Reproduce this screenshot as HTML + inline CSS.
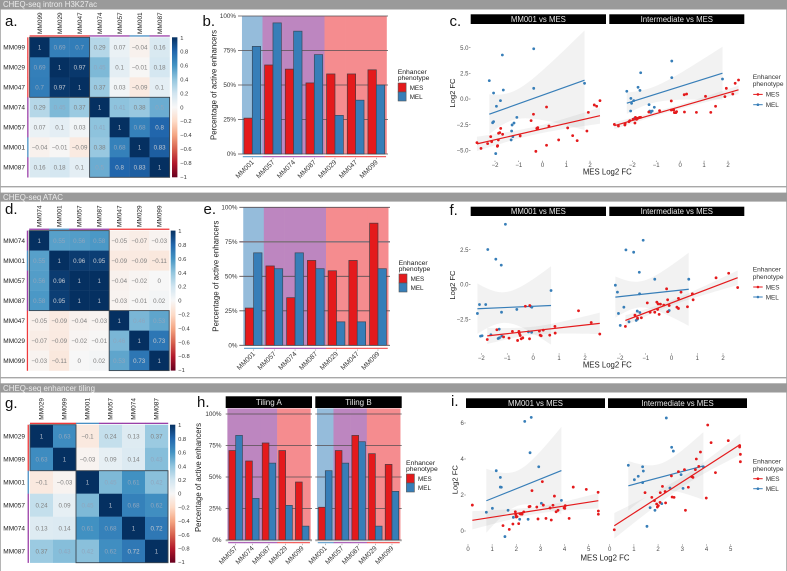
<!DOCTYPE html>
<html lang="en">
<head>
<meta charset="utf-8">
<title>CHEQ-seq correlation, enhancer phenotype and fold change figure</title>
<style>
html,body{margin:0;padding:0;background:#fff;width:787px;height:571px;overflow:hidden}
svg{display:block;font-family:"Liberation Sans",Arial,sans-serif;filter:blur(0.3px)}
</style>
</head>
<body>
<svg id="figure" xmlns="http://www.w3.org/2000/svg" width="787" height="571" viewBox="0 0 787 571">
  <defs>
    <linearGradient id="rdbu" x1="0" y1="1" x2="0" y2="0"></linearGradient>
  </defs>
  <rect x="0" y="0" width="787" height="571" fill="#ffffff"/>
  <rect x="0" y="0" width="1" height="571" fill="#b5b5b5"/>
  <rect x="786" y="0" width="1" height="571" fill="#b5b5b5"/>
  <rect x="0" y="0" width="787" height="9.5" fill="#9a9a9a"/>
  <rect x="0" y="186" width="787" height="1.4" fill="#a8a8a8"/>
  <rect x="0" y="192.6" width="787" height="9" fill="#9a9a9a"/>
  <rect x="0" y="377" width="787" height="1.4" fill="#a8a8a8"/>
  <rect x="0" y="383.3" width="787" height="9.2" fill="#9a9a9a"/>
  <text x="3" y="7" font-size="8" fill="#ececec" textLength="94" lengthAdjust="spacingAndGlyphs">CHEQ-seq intron H3K27ac</text>
  <text x="3" y="199.8" font-size="8" fill="#ececec" textLength="60" lengthAdjust="spacingAndGlyphs">CHEQ-seq ATAC</text>
  <text x="3" y="390.8" font-size="8" fill="#ececec" textLength="92" lengthAdjust="spacingAndGlyphs">CHEQ-seq enhancer tiling</text>
  <g font-size="15" fill="#111">
    <text x="5" y="26">a.</text>
    <text x="202.5" y="26">b.</text>
    <text x="449.5" y="26">c.</text>
    <text x="5" y="214">d.</text>
    <text x="203.5" y="214">e.</text>
    <text x="449.5" y="215">f.</text>
    <text x="5" y="408">g.</text>
    <text x="197" y="407">h.</text>
    <text x="451" y="406">i.</text>
  </g>
</svg>
<script>
/* ---------- panel a: intron H3K27ac correlation ---------- */
const heatALabels = ['MM099','MM029','MM047','MM074','MM057','MM001','MM087'];
const heatAValues = [
  [1,0.69,0.7,0.29,0.07,-0.04,0.16],
  [0.69,1,0.97,0.45,0.1,-0.01,0.18],
  [0.7,0.97,1,0.37,0.03,-0.09,0.1],
  [0.29,0.45,0.37,1,0.41,0.38,0.5],
  [0.07,0.1,0.03,0.41,1,0.68,0.8],
  [-0.04,-0.01,-0.09,0.38,0.68,1,0.83],
  [0.16,0.18,0.1,0.5,0.8,0.83,1]
];
const heatAClusters = [3,4];
/* ---------- panel d: ATAC correlation ---------- */
const heatDLabels = ['MM074','MM001','MM057','MM087','MM047','MM029','MM099'];
const heatDValues = [
  [1,0.55,0.56,0.58,-0.05,-0.07,-0.03],
  [0.55,1,0.96,0.95,-0.09,-0.09,-0.11],
  [0.56,0.96,1,1,-0.04,-0.02,0],
  [0.58,0.95,1,1,-0.03,-0.01,0.02],
  [-0.05,-0.09,-0.04,-0.03,1,0.46,0.53],
  [-0.07,-0.09,-0.02,-0.01,0.46,1,0.73],
  [-0.03,-0.11,0,0.02,0.53,0.73,1]
];
const heatDClusters = [4,3];
/* ---------- panel g: tiling correlation ---------- */
const heatGLabels = ['MM029','MM099','MM001','MM057','MM074','MM087'];
const heatGValues = [
  [1,0.63,-0.1,0.24,0.13,0.37],
  [0.63,1,-0.03,0.09,0.14,0.43],
  [-0.1,-0.03,1,0.45,0.61,0.42],
  [0.24,0.09,0.45,1,0.68,0.62],
  [0.13,0.14,0.61,0.68,1,0.72],
  [0.37,0.43,0.42,0.62,0.72,1]
];
const heatGClusters = [2,4];
const colorbarTicks = [1,0.8,0.6,0.4,0.2,0,-0.2,-0.4,-0.6,-0.8,-1];

/* ---------- bar panels ---------- */
const percentTicks = [0,25,50,75,100];
const barBCats = ['MM001','MM057','MM074','MM087','MM029','MM047','MM099'];
const barBMes = [26,64.5,61.5,51.5,58,58,61];
const barBMel = [78,95,89,72,28,39,50];
const barECats = ['MM001','MM057','MM074','MM087','MM029','MM047','MM099'];
const barEMes = [27,57.5,34.5,61.5,54,61.5,88.5];
const barEMel = [67,55.5,67,55.5,17,17,55.5];
const barHACats = ['MM057','MM074','MM087','MM029','MM099'];
const barHAMes = [71,62.7,77,71,46];
const barHAMel = [83,33,61,27.5,11];
const barHBCats = ['MM001','MM057','MM087','MM029','MM099'];
const barHBMes = [26,71,83,68.5,60];
const barHBMel = [55,61,78,11,38.6];

/* ---------- scatter panel c ---------- */
const cXTicks = [-2,-1,0,1,2];
const cYTicks = [5,2.5,0,-2.5,-5];
const cLeftMel = [[-2.24,1.79],[-1.69,4.29],[-0.37,4.9],[-2.06,0.58],[-1.65,0.88],[-0.37,1.04],[-1.77,-0.16],[-1.94,-0.71],[-2.06,-2.21],[-2.1,-2.31],[-1.08,-1.79],[-1.2,-2.34],[-1.28,-2.53],[-1.3,-3.12],[-1.25,-3.67],[-1.32,-3.99],[-1.97,-5.32],[1.77,1.53]];
const cLeftMes = [[-2.76,-4.25],[-2.59,-4.81],[-2.31,-4.35],[-2.14,-4.16],[-2.18,-3.67],[-1.86,-3.99],[-1.89,-4.55],[-1.9,-4.61],[-1.85,-3.34],[-1.8,-3.28],[-1.76,-2.86],[-1.68,-3.44],[-0.94,-3.6],[-0.48,-2.11],[-0.38,-1.49],[-0.28,-5.1],[-0.24,-2.86],[-0.2,-2.79],[-0.21,-2.92],[0.27,-2.63],[0.17,-0.78],[0.17,-4.51],[0.68,-3.99],[1.06,-2.82],[1.27,-3.57],[1.46,-4.06],[1.87,-3.12],[1.93,-1.3],[2.18,-0.58],[2.28,-0.71],[2.42,-0.16]];
const cRightMel = [[-2.23,0.75],[-2.06,0.06],[-1.94,-0.16],[-2.03,-0.42],[-2.07,-1.17],[-1.92,-1.92],[-1.65,2.56],[-1.76,1.14],[-1.68,0.84],[-1.3,-0.55],[-1.27,-1.17],[-1.23,-1.3],[-1.17,-1.17],[-1.08,-0.81],[-0.35,3.7],[-0.35,2.08],[1.77,1.95]];
const cRightMes = [[-2.75,-2.47],[-2.58,-2.63],[-2.31,-2.53],[-2.3,-2.4],[-2.14,-2.21],[-2.1,-2.11],[-1.97,-1.98],[-1.87,-1.79],[-1.85,-1.85],[-1.82,-1.98],[-1.89,-2.34],[-1.77,-1.88],[-1.7,-1.79],[-1.65,-1.79],[-1.31,-1.27],[-0.86,-1.14],[-0.37,-1.07],[-0.37,-0.19],[-0.27,-1.07],[-0.24,-1.33],[-0.18,-1.33],[-0.15,-1.23],[0.18,-1.27],[0.17,0.42],[0.27,0.49],[0.68,-1.3],[1.06,0.26],[1.28,-1.3],[1.48,-0.71],[1.87,0.23],[1.93,1.04],[2.2,0.49],[2.3,1.53],[2.44,1.85]];

/* ---------- scatter panel f ---------- */
const fXTicks = [-2,-1,0,1,2];
const fYTicks = [2.5,0,-2.5];
const fLeftMel = [[-1.07,4.33],[-1.75,2.51],[-1.44,1.82],[-1.23,1.39],[0.69,-0.43],[-2.07,-1.44],[-1.83,-1.44],[-2.15,-2.08],[-1.22,-1.99],[-0.63,-1.79],[-0.09,-1.58],[-0.05,-1.63],[-1.63,-3.61],[-1.31,-3.21],[-2.03,-3.71],[-1.97,-3.68],[-1.35,-3.88],[-1.3,-3.83],[-1.21,-3.71],[-0.18,-3.4],[-0.06,-3.44]];
const fLeftMes = [[-1.77,-3.95],[-1.4,-3.25],[-1.14,-3.76],[-0.93,-3.85],[-0.8,-3.37],[-0.6,-4.02],[-0.55,-3.37],[-0.53,-3.52],[-0.5,-3.66],[-0.46,-3.9],[-0.4,-3.83],[-0.3,-1.56],[-0.13,-1.51],[-0.14,-3.9],[0.24,-3.35],[0.27,-3.64],[0.31,-3.68],[0.39,-3.28],[0.64,-3.64],[0.84,-3.01],[0.85,-3.49],[1.75,-1.89],[2.24,-2.73],[2.57,-3.56]];
const fRightMel = [[-1.1,3.18],[-1.77,2.49],[-1.47,2.32],[-1.25,0.88],[-0.65,0.38],[0.67,0.38],[-2.18,-0.05],[-2.1,-0.55],[-1.24,-0.67],[-1.85,-1.63],[-2.06,-2.08],[-1.33,-1.91],[-1.23,-2.01],[-1.99,-2.94],[-1.65,-2.68],[-1.37,-2.58],[-1.32,-2.49],[-0.09,-1.87],[-0.13,-1.94]];
const fRightMes = [[-1.79,-3.01],[-1.42,-2.2],[-1.32,-2.42],[-1.17,-2.39],[-0.94,-1.32],[-0.83,-1.99],[-0.65,-1.99],[-0.57,-1.27],[-0.54,-1.79],[-0.52,-1.39],[-0.48,-2.15],[-0.43,-1.41],[-0.3,-1.48],[-0.15,-1.1],[-0.15,-1.96],[-0.09,-1.51],[-0.19,-0.31],[0.21,-1.63],[0.27,-1.72],[0.27,-1],[0.37,-0.55],[0.62,-1.6],[0.81,-0.67],[0.84,-1.1],[1.73,0.48],[2.22,0.81],[2.57,-0.22]];

/* ---------- scatter panel i ---------- */
const iXTicks = [0,1,2,3,4,5];
const iYTicks = [6,4,2,0];
const iLeftMel = [[0.76,1.04],[1.01,1.26],[1.17,3.35],[1.34,2.98],[1.34,2.44],[1.38,2.43],[1.53,-0.31],[1.66,1.15],[1.88,0.76],[2.14,0.65],[2.49,0.65],[2.35,6.09],[2.62,6.31],[2.57,4.35],[2.93,3.57],[3.04,1.54],[3.87,1.7]];
const iLeftMes = [[0.18,1.44],[1.45,0.3],[1.71,0.09],[1.86,0.39],[1.96,1.07],[1.98,0.91],[2,0.78],[2.03,0.8],[2.1,0.41],[2.15,0.96],[2.2,0.94],[2.24,0.94],[2.31,1.06],[2.53,1.35],[2.57,1.37],[2.65,2.24],[2.85,1.33],[2.9,0.67],[3.08,2.74],[3.12,1.44],[3.23,0.7],[3.4,1.28],[3.45,0.61],[3.52,1.43],[3.58,1.94],[3.65,1.07],[3.73,1.15],[3.98,1.28],[4.01,1.26],[4.03,1.41],[4.19,0.7],[4.36,2.44],[4.9,2.31],[5.39,2.15],[5.4,1.11],[5.4,0.93]];
const iRightMel = [[0.77,3.65],[1.02,2.85],[1.18,3.04],[1.36,3.57],[1.39,3.33],[1.36,2.69],[1.67,1.3],[1.54,0.26],[1.87,1.15],[2.15,1.52],[2.34,6.28],[2.56,4.65],[2.63,4.44],[2.49,2.39],[2.95,3.13],[3.03,2.37],[3.87,3.57]];
const iRightMes = [[0.19,0.07],[1.46,2.13],[1.74,1.87],[1.85,1.69],[1.94,1.5],[1.97,1.33],[2.01,1.41],[2.08,1.59],[2.09,2.13],[2.18,2.48],[2.29,2.19],[2.31,1.56],[2.58,1.89],[2.66,1.87],[2.55,3.06],[2.84,3.3],[3.09,3.41],[3.13,1.15],[3.25,2.43],[3.39,3.02],[3.44,2.98],[3.54,3.41],[3.58,4],[3.68,3.59],[3.75,4.39],[3.99,1.83],[4.05,5.89],[4.19,4.91],[4.37,3.24],[4.9,5.02],[5.37,4.74],[5.37,4.67],[5.4,4.26],[5.4,3.85]];

/* ---------- colours and helpers ---------- */
const MES_COLOR = '#e41a1c';
const MEL_COLOR = '#377eb8';
const RDBU = ['#67001f','#b2182b','#d6604d','#f4a582','#fddbc7','#f7f7f7','#d1e5f0','#92c5de','#4393c3','#2166ac','#053061'];
const svg = document.getElementById('figure');
const NS = 'http://www.w3.org/2000/svg';

function make(tag, attrs, text, parent) {
  const el = document.createElementNS(NS, tag);
  for (const k in attrs) el.setAttribute(k, attrs[k]);
  if (text !== undefined) el.textContent = text;
  (parent || svg).appendChild(el);
  return el;
}
function linear(d0, r0, d1, r1) {
  return v => r0 + (v - d0) * (r1 - r0) / (d1 - d0);
}
function hexRgb(h) {
  return [parseInt(h.slice(1,3),16), parseInt(h.slice(3,5),16), parseInt(h.slice(5,7),16)];
}
function rdbu(v) {
  const t = (Math.max(-1, Math.min(1, v)) + 1) * 5;
  const i = Math.min(9, Math.floor(t));
  const a = hexRgb(RDBU[i]), b = hexRgb(RDBU[i + 1]), f = t - i;
  return 'rgb(' + a.map((c, k) => Math.round(c + (b[k] - c) * f)).join(',') + ')';
}
function groupColor(label) {
  if (label === 'MM001') return '#4a90c4';
  if (label === 'MM029' || label === 'MM047' || label === 'MM099') return '#ee3a3c';
  return '#9a3fa8';
}
function bgColor(label) {
  if (label === 'MM001') return '#95bcdb';
  if (label === 'MM029' || label === 'MM047' || label === 'MM099') return '#f58c8f';
  return '#bd86c0';
}
function cellTextColor(v) {
  if (v >= 0.99) return '#b4bdca';
  if (v >= 0.72) return '#c4c8cf';
  if (v >= 0.4) return '#8fa6be';
  return '#808080';
}
function minusFormat(v, digits) {
  return v.toFixed(digits).replace('-', '\u2212');
}

RDBU.forEach((c, i) => {
  const stop = make('stop', {offset: (i * 10) + '%', 'stop-color': c}, undefined, document.getElementById('rdbu'));
  
  
});

/* ---------- heatmap ---------- */
function drawHeatmap(opt, labels, values, clusters, ticks) {
  const g = make('g', {});
  
  
  const sx = i => opt.x0 + i * opt.cell;
  const sy = i => opt.y0 + i * opt.cell;
  values.forEach((row, r) => {
    row.forEach((v, c) => {
      const cell = make('rect', {x: sx(c), y: sy(r), width: opt.cell + 0.2, height: opt.cell + 0.2, fill: rdbu(v)}, undefined, g);
      
      
      const t = make('text', {x: sx(c) + opt.cell / 2, y: sy(r) + opt.cell / 2 + 2.2, 'font-size': 6.2, 'text-anchor': 'middle', fill: cellTextColor(v)}, String(v).replace('-', '\u2212'), g);
      
      
    });
  });
  labels.forEach((lab, i) => {
    const rowLab = make('text', {x: 3.3, y: sy(i) + opt.cell / 2 + 2.3, 'font-size': 6.5, fill: '#222'}, lab, g);
    
    
    const cx = sx(i) + opt.cell / 2 + 2.2;
    const colLab = make('text', {x: cx, y: opt.colLabelBottom, 'font-size': 6.5, fill: '#222', transform: 'rotate(-90 ' + cx + ' ' + opt.colLabelBottom + ')'}, lab, g);
    
    
    const top = make('rect', {x: sx(i), y: opt.y0 - 2, width: opt.cell + 0.2, height: 1.3, fill: groupColor(lab)}, undefined, g);
    
    
    const left = make('rect', {x: opt.x0 - 2.4, y: sy(i), width: 1.3, height: opt.cell + 0.2, fill: groupColor(lab)}, undefined, g);
    
    
  });
  let start = 0;
  clusters.forEach(size => {
    const box = make('rect', {x: sx(start), y: sy(start), width: size * opt.cell, height: size * opt.cell, fill: 'none', stroke: '#3c4650', 'stroke-width': 0.9}, undefined, g);
    
    
    start += size;
  });
  const h = values.length * opt.cell;
  const bar = make('rect', {x: opt.barX, y: opt.y0, width: opt.barW, height: h, fill: 'url(#rdbu)'}, undefined, g);
  
  
  const cy = linear(1, opt.y0 + 0.5, -1, opt.y0 + h - 0.5);
  ticks.forEach(t => {
    const label = make('text', {x: opt.barX + opt.barW + 2.8, y: cy(t) + 2, 'font-size': 5.8, fill: '#333'}, String(t).replace('-', '\u2212'), g);
    
    
  });
}

/* ---------- bars ---------- */
function drawBars(opt, cats, mes, mel, ticks) {
  const g = make('g', {});
  
  
  const bx = i => opt.c0 + i * opt.step;
  const by = linear(0, opt.yZero, 100, opt.yFull);
  const bw = opt.step * 0.405;
  cats.forEach((cat, i) => {
    const bg = make('rect', {x: bx(i) - opt.step / 2 - (i ? 0.15 : 0), y: opt.bgTop, width: opt.step + 0.3, height: opt.yZero - opt.bgTop, fill: bgColor(cat)}, undefined, g);
    
    
  });
  ticks.forEach(t => {
    const line = make('line', {x1: opt.gridX0, x2: opt.gridX1, y1: by(t), y2: by(t), stroke: t === 75 && opt.softTop ? '#7c6f78' : '#564f52', 'stroke-width': t === 75 && opt.softTop ? 1.3 : 0.8}, undefined, g);
    
    
    if (opt.showY) {
      const label = make('text', {x: opt.labelX, y: by(t) + 2.2, 'font-size': 6.3, 'text-anchor': 'end', fill: '#333'}, t + '%', g);
      
      
    }
  });
  cats.forEach((cat, i) => {
    const r = make('rect', {x: bx(i) - bw, y: by(mes[i]), width: bw, height: opt.yZero - by(mes[i]), fill: MES_COLOR, stroke: '#4a3a40', 'stroke-width': 0.7}, undefined, g);
    
    
    const b = make('rect', {x: bx(i), y: by(mel[i]), width: bw, height: opt.yZero - by(mel[i]), fill: MEL_COLOR, stroke: '#39495a', 'stroke-width': 0.7}, undefined, g);
    
    
    const strip = make('rect', {x: bx(i) - opt.step / 2 + (i ? 0 : 0.8), y: opt.stripY, width: opt.step - (i === 0 || i === cats.length - 1 ? 0.8 : 0) + 0.2, height: 1, fill: groupColor(cat)}, undefined, g);
    
    
    const tk = make('line', {x1: bx(i), x2: bx(i), y1: opt.stripY + 1.6, y2: opt.stripY + 3, stroke: '#777', 'stroke-width': 0.5}, undefined, g);
    
    
    const ax = bx(i) + 2, ay = opt.stripY + 6.5;
    const label = make('text', {x: ax, y: ay, 'font-size': 6.8, 'text-anchor': 'end', fill: '#333', transform: 'rotate(-45 ' + ax + ' ' + ay + ')'}, cat, g);
    
    
  });
  if (opt.baseline) {
    const base = make('line', {x1: opt.gridX0, x2: opt.gridX1, y1: opt.yZero + 0.8, y2: opt.yZero + 0.8, stroke: '#b0b0b0', 'stroke-width': 1}, undefined, g);
    
    
  }
}
function barTitle(x, y1, y2) {
  const cy = (y1 + y2) / 2;
  const t = make('text', {x: x, y: cy, 'font-size': 8, 'text-anchor': 'middle', fill: '#222', transform: 'rotate(-90 ' + x + ' ' + cy + ')', textLength: y2 - y1, lengthAdjust: 'spacingAndGlyphs'}, 'Percentage of active enhancers');
  
  
}
function barLegend(x, y) {
  const g = make('g', {});
  
  
  const l1 = make('text', {x: x, y: y, 'font-size': 6.8, fill: '#222'}, 'Enhancer', g);
  
  
  const l2 = make('text', {x: x, y: y + 6.2, 'font-size': 6.8, fill: '#222'}, 'phenotype', g);
  
  
  const rb = make('rect', {x: x + 0.4, y: y + 9, width: 8, height: 9, fill: MES_COLOR, stroke: '#555', 'stroke-width': 0.6}, undefined, g);
  
  
  const bb = make('rect', {x: x + 0.4, y: y + 18, width: 8, height: 9, fill: MEL_COLOR, stroke: '#555', 'stroke-width': 0.6}, undefined, g);
  
  
  const t1 = make('text', {x: x + 12, y: y + 15.8, 'font-size': 6.3, fill: '#222'}, 'MES', g);
  
  
  const t2 = make('text', {x: x + 12, y: y + 24.8, 'font-size': 6.3, fill: '#222'}, 'MEL', g);
  
  
}
function facetStrip(x1, x2, y1, y2, label, size) {
  const s = make('rect', {x: x1, y: y1, width: x2 - x1, height: y2 - y1, fill: '#000'});
  
  
  const t = make('text', {x: (x1 + x2) / 2, y: (y1 + y2) / 2 + size * 0.36, 'font-size': size, 'text-anchor': 'middle', fill: '#e6e6e6'}, label);
  
  
}

/* ---------- scatter with regression fit ---------- */
function drawSeries(parent, pts, sx, sy, color) {
  const n = pts.length;
  const mx = pts.reduce((a, p) => a + p[0], 0) / n;
  const my = pts.reduce((a, p) => a + p[1], 0) / n;
  const sxx = pts.reduce((a, p) => a + (p[0] - mx) * (p[0] - mx), 0);
  const sxy = pts.reduce((a, p) => a + (p[0] - mx) * (p[1] - my), 0);
  const slope = sxy / sxx, inter = my - slope * mx;
  const sse = pts.reduce((a, p) => a + Math.pow(p[1] - inter - slope * p[0], 2), 0);
  const se = Math.sqrt(sse / (n - 2));
  const t = 1.96 + 2.4 / (n - 2);
  const xs = pts.map(p => p[0]);
  const xMin = Math.min.apply(null, xs), xMax = Math.max.apply(null, xs);
  const up = [], down = [];
  for (let k = 0; k <= 40; k++) {
    const x = xMin + (xMax - xMin) * k / 40;
    const half = t * se * Math.sqrt(1 / n + (x - mx) * (x - mx) / sxx);
    const fit = inter + slope * x;
    up.push(sx(x).toFixed(2) + ',' + sy(fit + half).toFixed(2));
    down.unshift(sx(x).toFixed(2) + ',' + sy(fit - half).toFixed(2));
  }
  const band = make('polygon', {points: up.concat(down).join(' '), fill: '#4a4a4a', 'fill-opacity': 0.075}, undefined, parent);
  
  
  pts.forEach(p => {
    const c = make('circle', {cx: sx(p[0]), cy: sy(p[1]), r: 1.4, fill: color}, undefined, parent);
    
    
  });
  const line = make('line', {x1: sx(xMin), y1: sy(inter + slope * xMin), x2: sx(xMax), y2: sy(inter + slope * xMax), stroke: color, 'stroke-width': 1.2}, undefined, parent);
  
  
}
function drawAxes(opt, xTicks, yTicks) {
  const g = make('g', {});
  
  
  yTicks.forEach(v => {
    const t = make('text', {x: opt.yAxisX - 2, y: opt.y(v) + 2.1, 'font-size': 6, 'text-anchor': 'end', fill: '#4d4d4d'}, minusFormat(v, opt.yDigits), g);
    
    
    const k = make('line', {x1: opt.yAxisX - 1.5, x2: opt.yAxisX, y1: opt.y(v), y2: opt.y(v), stroke: '#555', 'stroke-width': 0.5}, undefined, g);
    
    
  });
  [opt.left, opt.right].forEach(sx => {
    xTicks.forEach(v => {
      const t = make('text', {x: sx(v), y: opt.xTickY, 'font-size': 6, 'text-anchor': 'middle', fill: '#4d4d4d'}, minusFormat(v, 0), g);
      
      
      const k = make('line', {x1: sx(v), x2: sx(v), y1: opt.xTickY - 6.5, y2: opt.xTickY - 5.2, stroke: '#555', 'stroke-width': 0.5}, undefined, g);
      
      
    });
  });
  const xt = make('text', {x: opt.titleX, y: opt.xTitleY, 'font-size': 7.8, 'text-anchor': 'middle', fill: '#222'}, 'MES Log2 FC', g);
  
  
  const yt = make('text', {x: opt.yTitleX, y: opt.yTitleY, 'font-size': 7.6, 'text-anchor': 'middle', fill: '#222', transform: 'rotate(-90 ' + opt.yTitleX + ' ' + opt.yTitleY + ')'}, 'Log2 FC', g);
  
  
}
function scatterLegend(x, y, mesY, melY) {
  const g = make('g', {});
  
  
  const l1 = make('text', {x: x, y: y, 'font-size': 6.6, fill: '#333'}, 'Enhancer', g);
  
  
  const l2 = make('text', {x: x, y: y + 7.2, 'font-size': 6.6, fill: '#333'}, 'phenotype', g);
  
  
  const keys = [['MES', MES_COLOR, mesY], ['MEL', MEL_COLOR, melY]];
  keys.forEach(k => {
    const line = make('line', {x1: x + 0.5, x2: x + 10, y1: k[2], y2: k[2], stroke: k[1], 'stroke-width': 1}, undefined, g);
    
    
    const dot = make('circle', {cx: x + 5.2, cy: k[2], r: 1.3, fill: k[1]}, undefined, g);
    
    
    const t = make('text', {x: x + 13, y: k[2] + 2.3, 'font-size': 6.4, fill: '#333'}, k[0], g);
    
    
  });
}
function drawScatter(opt, xTicks, yTicks, leftMes, leftMel, rightMes, rightMel) {
  facetStrip(opt.s1[0], opt.s1[1], opt.sy[0], opt.sy[1], 'MM001 vs MES', 7.8);
  facetStrip(opt.s2[0], opt.s2[1], opt.sy[0], opt.sy[1], 'Intermediate vs MES', 7.8);
  drawAxes(opt, xTicks, yTicks);
  const g1 = make('g', {});
  
  
  drawSeries(g1, leftMel, opt.left, opt.y, MEL_COLOR);
  drawSeries(g1, leftMes, opt.left, opt.y, MES_COLOR);
  const g2 = make('g', {});
  
  
  drawSeries(g2, rightMel, opt.right, opt.y, MEL_COLOR);
  drawSeries(g2, rightMes, opt.right, opt.y, MES_COLOR);
}

/* ---------- render ---------- */
drawHeatmap({name: 'heatmap-a', x0: 29.6, y0: 37.3, cell: 20, barX: 172, barW: 5.4, colLabelBottom: 34}, heatALabels, heatAValues, heatAClusters, colorbarTicks);
drawHeatmap({name: 'heatmap-d', x0: 29.2, y0: 230.6, cell: 20, barX: 170.7, barW: 4.8, colLabelBottom: 227}, heatDLabels, heatDValues, heatDClusters, colorbarTicks);
drawHeatmap({name: 'heatmap-g', x0: 30, y0: 424.7, cell: 23, barX: 170, barW: 5.3, colLabelBottom: 419.7}, heatGLabels, heatGValues, heatGClusters, colorbarTicks);

drawBars({name: 'bars-b', c0: 252.3, step: 20.67, yZero: 154, yFull: 16, bgTop: 16, gridX0: 238, gridX1: 388, stripY: 156.2, showY: true, labelX: 236}, barBCats, barBMes, barBMel, percentTicks);
barTitle(216.5, 30, 140);
barLegend(397.7, 74);
drawBars({name: 'bars-e', c0: 253.6, step: 20.73, yZero: 345.3, yFull: 207.3, bgTop: 207.3, gridX0: 239.3, gridX1: 390, stripY: 347.8, showY: true, labelX: 237.5, softTop: true}, barECats, barEMes, barEMel, percentTicks);
barTitle(218.5, 220.7, 331.7);
barLegend(398.6, 265);
facetStrip(225.7, 312, 396.3, 408, 'Tiling A', 8);
facetStrip(315.3, 401.7, 396.3, 408, 'Tiling B', 8);
drawBars({name: 'bars-h-tiling-a', c0: 235.7, step: 16.63, yZero: 540, yFull: 414, bgTop: 408.4, gridX0: 225.7, gridX1: 312, stripY: 542.2, showY: true, labelX: 221.5, baseline: true}, barHACats, barHAMes, barHAMel, percentTicks);
drawBars({name: 'bars-h-tiling-b', c0: 325.3, step: 16.67, yZero: 540, yFull: 414, bgTop: 408.4, gridX0: 315.3, gridX1: 401.7, stripY: 542.2, showY: false, labelX: 0, baseline: true}, barHBCats, barHBMes, barHBMel, percentTicks);
barTitle(201, 423, 532);
barLegend(406, 465);

drawScatter({name: 'scatter-c', s1: [470.7, 606], s2: [609.3, 744.3], sy: [14.3, 24],
  left: linear(-2, 495, 2, 590), right: linear(-2, 632.3, 2, 728), y: linear(5, 47.7, -5, 150.3),
  yAxisX: 470.5, yDigits: 1, xTickY: 167.2, xTitleY: 174.6, titleX: 607.3, yTitleX: 454.8, yTitleY: 93}, cXTicks, cYTicks, cLeftMes, cLeftMel, cRightMes, cRightMel);
scatterLegend(752.7, 79, 94.4, 104.7);
drawScatter({name: 'scatter-f', s1: [470.7, 606], s2: [609.3, 744.3], sy: [206.7, 216],
  left: linear(-2, 481.3, 2, 585), right: linear(-2, 620, 2, 723), y: linear(2.5, 249.7, -2.5, 319.3),
  yAxisX: 470.5, yDigits: 1, xTickY: 359.8, xTitleY: 367.3, titleX: 607.3, yTitleX: 454.8, yTitleY: 285}, fXTicks, fYTicks, fLeftMes, fLeftMel, fRightMes, fRightMel);
scatterLegend(752.7, 271.6, 287, 297);
drawScatter({name: 'scatter-i', s1: [466, 605], s2: [608, 747], sy: [398.3, 408],
  left: linear(0, 468, 5, 588.7), right: linear(0, 609.7, 5, 730.7), y: linear(0, 531, 6, 423),
  yAxisX: 465.8, yDigits: 0, xTickY: 550.8, xTitleY: 560.6, titleX: 605, yTitleX: 457.5, yTitleY: 479.7}, iXTicks, iYTicks, iLeftMes, iLeftMel, iRightMes, iRightMel);
scatterLegend(752.7, 463.6, 478.7, 488.7);
</script>
</body>
</html>
